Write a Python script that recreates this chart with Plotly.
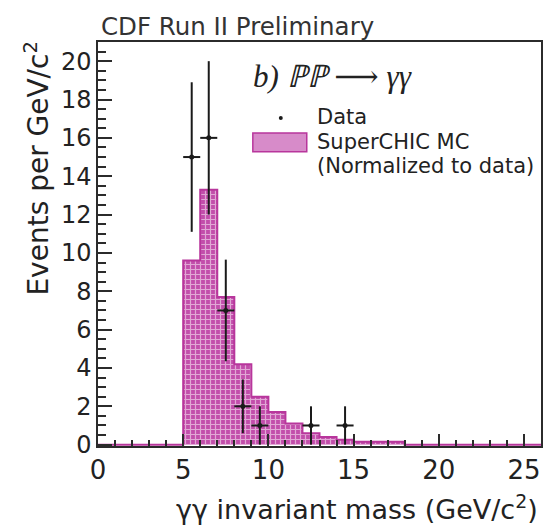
import numpy as np
import plotly.graph_objects as go

# ---- data ----
bin_edges = list(range(0, 27))            # 1 GeV/c^2 bins from 0 to 26
mc_values = [0, 0, 0, 0, 0, 9.6, 13.3, 7.7, 4.2, 2.5, 1.7, 1.1, 0.6, 0.4, 0.25,
             0.15, 0.15, 0.15, 0, 0, 0, 0, 0, 0, 0, 0]
data_x = [5.5, 6.5, 7.5, 8.5, 9.5, 12.5, 14.5]
data_y = [15, 16, 7, 2, 1, 1, 1]
data_err = [3.9, 4.0, 2.65, 1.4, 1.0, 1.0, 1.0]
bin_width = 1.0

MAG = "#c24eab"
MAG_LINE = "#b8369c"
AX = "#2b2b2b"
SANS = "DejaVu Sans, Verdana, sans-serif"

edges = np.array(bin_edges, dtype=float)
centers = (edges[:-1] + edges[1:]) / 2
vals = np.array(mc_values, dtype=float)

fig = go.Figure()

# patterned histogram fill
fig.add_trace(go.Bar(
    x=centers, y=vals, width=bin_width,
    marker=dict(color=MAG, line=dict(width=0),
                pattern=dict(shape="+", fgcolor="white", size=5, solidity=0.42,
                             fillmode="overlay")),
    showlegend=False, hoverinfo="skip"))

# histogram outline (step)
fig.add_trace(go.Scatter(
    x=list(edges), y=list(vals) + [vals[-1]], mode="lines",
    line=dict(shape="hv", color=MAG_LINE, width=2),
    showlegend=False, hoverinfo="skip"))

# data points
fig.add_trace(go.Scatter(
    x=data_x, y=data_y, mode="markers",
    marker=dict(color="#1a1a1a", size=5),
    error_y=dict(type="data", array=data_err, color="#1a1a1a", thickness=2, width=0),
    error_x=dict(type="constant", value=bin_width / 2, color="#1a1a1a", thickness=2, width=0),
    showlegend=False))

L, R, T, B = 98, 541.5, 42, 446.5
W, H = 545, 527

def px(x):
    return (x - L) / (R - L)

def py(y):
    return (B - y) / (B - T)

fig.update_layout(
    width=W, height=H,
    margin=dict(l=L, r=W - R, t=T, b=H - B, pad=0),
    paper_bgcolor="white", plot_bgcolor="white",
    font=dict(family=SANS, color="#222"),
    bargap=0, showlegend=False,
)

fig.update_xaxes(
    range=[0, 26], tick0=0, dtick=5, ticks="inside", ticklen=12, tickwidth=1.5,
    tickcolor=AX, showline=True, linecolor=AX, linewidth=1.5, mirror=True,
    showgrid=False, zeroline=False, tickfont=dict(size=26, color="#222"),
    minor=dict(dtick=1, ticks="inside", ticklen=6, tickwidth=1.5, tickcolor=AX, showgrid=False),
)
fig.update_yaxes(
    range=[-0.07, 21], tick0=0, dtick=2, ticks="inside", ticklen=14, tickwidth=1.5,
    tickcolor=AX, showline=True, linecolor=AX, linewidth=1.5, mirror=True,
    showgrid=False, zeroline=False, tickfont=dict(size=24, color="#222"),
    minor=dict(dtick=0.5, ticks="inside", ticklen=8, tickwidth=1.5, tickcolor=AX, showgrid=False),
)

LEG_FS = 21
LEG_SPACING = 24.5
sp = lambda s: f"<span style='font-size:{LEG_FS}px'>{s}</span>"

ann = []
ann.append(dict(text="CDF Run II Preliminary", x=px(99), y=py(26), xref="paper", yref="paper",
                xanchor="left", yanchor="middle", showarrow=False,
                font=dict(size=24.5, color="#333")))
ann.append(dict(text="Events per GeV/c<sup>2</sup>", x=px(37), y=py(39), xref="paper", yref="paper",
                xanchor="center", yanchor="top", textangle=-90, showarrow=False,
                font=dict(size=28, color="#222")))
ann.append(dict(text="γγ invariant mass (GeV/c<sup>2</sup>)", x=px(540), y=py(508), xref="paper",
                yref="paper", xanchor="right", yanchor="middle", showarrow=False,
                font=dict(size=27, color="#222")))
ann.append(dict(text="<i>b) ℙℙ ⟶ γγ</i>", x=px(251), y=py(77), xref="paper", yref="paper",
                xanchor="left", yanchor="middle", showarrow=False,
                font=dict(size=31, family="Liberation Serif, DejaVu Serif, serif", color="#222")))
ann.append(dict(text=sp("Data") + "<br>" + sp("SuperCHIC MC") + "<br>" + sp("(Normalized to data)"),
                x=px(315), y=py(141.5), xref="paper", yref="paper", align="left",
                xanchor="left", yanchor="middle", showarrow=False,
                font=dict(size=LEG_SPACING / 1.3, color="#222")))
fig.update_layout(annotations=ann)

# legend symbols
fig.add_shape(type="rect", xref="paper", yref="paper", x0=px(253), x1=px(307), y0=py(152), y1=py(133),
              fillcolor="#d78bc9", line=dict(color=MAG_LINE, width=1.5))
fig.add_shape(type="circle", xref="paper", yref="paper", x0=px(279), x1=px(283), y0=py(120), y1=py(116),
              fillcolor="#1a1a1a", line=dict(width=0))

fig.write_html("out.html", config={"displayModeBar": False},
               post_script="document.body.style.margin='0';document.body.style.padding='0';")
